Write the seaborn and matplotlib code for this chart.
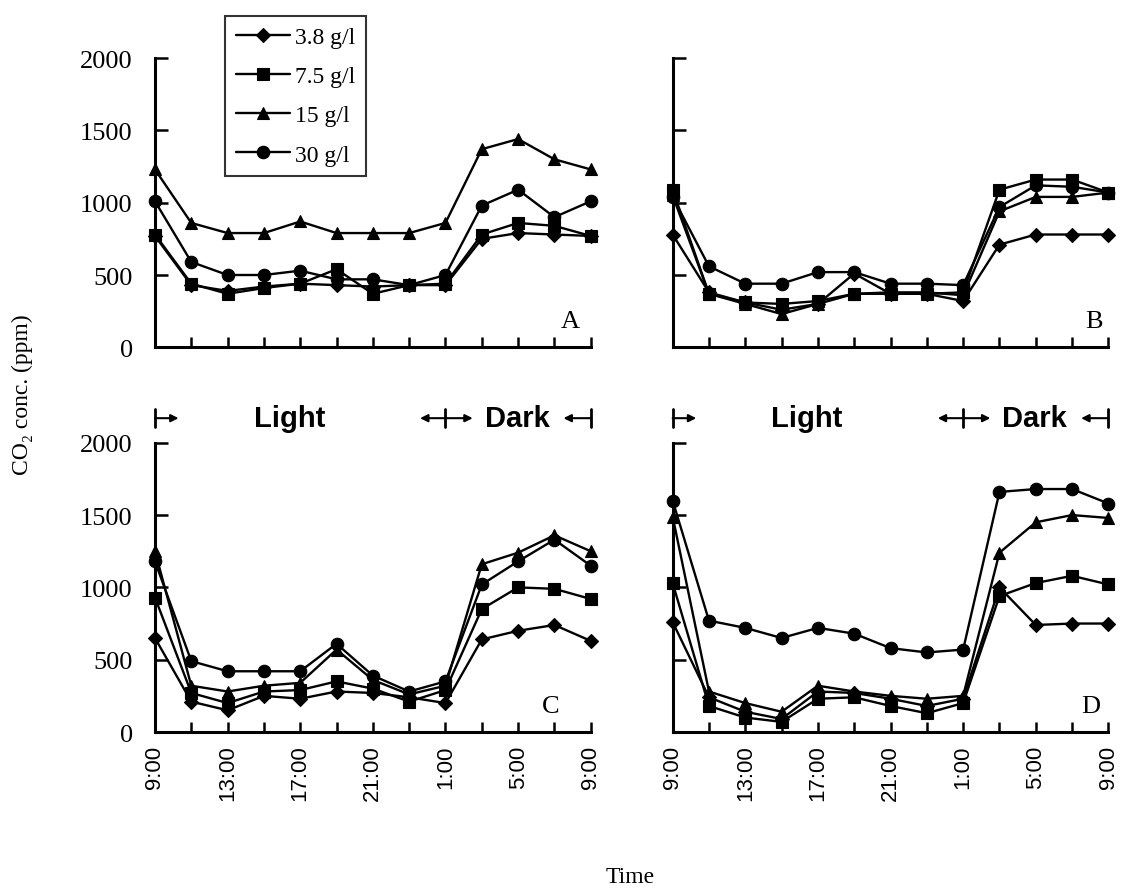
import pandas as pd
import seaborn as sns
import matplotlib.pyplot as plt
from matplotlib.transforms import blended_transform_factory

# time axis: hours after 9:00, sampled every 2 h
hours = [0, 2, 4, 6, 8, 10, 12, 14, 16, 18, 20, 22, 24]
tick_hours = [0, 4, 8, 12, 16, 20, 24]
tick_labels = ['9:00', '13:00', '17:00', '21:00', '1:00', '5:00', '9:00']
y_ticks = [0, 500, 1000, 1500, 2000]

series = ['3.8 g/l', '7.5 g/l', '15 g/l', '30 g/l']

# panel A
a_38 = [770, 430, 390, 420, 440, 430, 420, 430, 430, 750, 790, 780, 770]
a_75 = [780, 440, 370, 410, 440, 540, 370, 430, 440, 780, 860, 840, 770]
a_15 = [1230, 860, 790, 790, 870, 790, 790, 790, 860, 1370, 1440, 1300, 1230]
a_30 = [1010, 590, 500, 500, 530, 470, 470, 430, 500, 980, 1090, 900, 1010]

# panel B
b_38 = [780, 380, 310, 260, 300, 510, 370, 370, 320, 710, 780, 780, 780]
b_75 = [1090, 370, 310, 300, 320, 370, 370, 370, 380, 1090, 1160, 1160, 1070]
b_15 = [1050, 370, 300, 230, 300, 370, 380, 380, 360, 940, 1040, 1040, 1070]
b_30 = [1040, 560, 440, 440, 520, 520, 440, 440, 430, 970, 1120, 1110, 1070]

# panel C
c_38 = [650, 210, 150, 250, 230, 280, 270, 240, 200, 640, 700, 740, 630]
c_75 = [930, 270, 200, 280, 290, 350, 300, 210, 290, 850, 1000, 990, 920]
c_15 = [1250, 320, 280, 320, 340, 570, 360, 260, 320, 1160, 1240, 1360, 1250]
c_30 = [1180, 490, 420, 420, 420, 610, 390, 280, 350, 1020, 1180, 1330, 1150]

# panel D
d_38 = [760, 240, 140, 90, 280, 270, 230, 180, 230, 1000, 740, 750, 750]
d_75 = [1030, 180, 100, 70, 230, 240, 180, 130, 200, 940, 1030, 1080, 1020]
d_15 = [1490, 280, 200, 140, 320, 280, 250, 230, 250, 1240, 1450, 1500, 1480]
d_30 = [1600, 770, 720, 650, 720, 680, 580, 550, 570, 1660, 1680, 1680, 1580]

panels = {
    'A': [a_38, a_75, a_15, a_30],
    'B': [b_38, b_75, b_15, b_30],
    'C': [c_38, c_75, c_15, c_30],
    'D': [d_38, d_75, d_15, d_30],
}

markers = {'3.8 g/l': 'D', '7.5 g/l': 's', '15 g/l': '^', '30 g/l': 'o'}
msizes = {'3.8 g/l': 7, '7.5 g/l': 8.5, '15 g/l': 9, '30 g/l': 9}

sns.set_style('ticks')
plt.rcParams['font.family'] = ['Liberation Serif', 'DejaVu Serif']
for key in ['text.color', 'axes.edgecolor', 'axes.labelcolor',
            'xtick.color', 'ytick.color']:
    plt.rcParams[key] = 'black'

fig, axes = plt.subplots(2, 2, figsize=(11.23, 8.95), dpi=100)
fig.subplots_adjust(left=0.138, right=0.987, top=0.934, bottom=0.181,
                    wspace=0.188, hspace=0.33)

sans = ['Liberation Sans', 'DejaVu Sans']
letter_pos = {'A': 0.954, 'B': 0.966, 'C': 0.908, 'D': 0.959}

for ax, name in zip(axes.flat, ['A', 'B', 'C', 'D']):
    for s, vals in zip(series, panels[name]):
        sns.lineplot(x=hours, y=vals, ax=ax, color='black', linewidth=1.7,
                     marker=markers[s], markersize=msizes[s],
                     markeredgecolor='black', markeredgewidth=0.8,
                     legend=False, clip_on=False)
    ax.set_xlim(0, 24)
    ax.set_ylim(0, 2000)
    ax.set_xticks(tick_hours)
    ax.set_xticks(hours, minor=True)
    ax.set_yticks(y_ticks)
    sns.despine(ax=ax)
    for sp in ['left', 'bottom']:
        ax.spines[sp].set_linewidth(2.2)
        ax.spines[sp].set_color('black')
    ax.tick_params(axis='both', which='both', direction='in', width=1.8, color='black')
    ax.tick_params(axis='x', which='both', length=7, pad=9)
    ax.tick_params(axis='y', length=9, pad=16)
    ax.set_xlabel('')
    ax.set_ylabel('')
    if name in ('A', 'B'):
        ax.tick_params(axis='x', labelbottom=False)
    else:
        ax.set_xticklabels(tick_labels, rotation=90, fontsize=16, family=sans)
    if name in ('B', 'D'):
        ax.tick_params(axis='y', labelleft=False)
    else:
        ax.set_yticklabels([str(v) for v in y_ticks], fontsize=19)
    ax.text(letter_pos[name], 0.09, name, transform=ax.transAxes,
            fontsize=19, ha='center', va='center')

    # light / dark period markers above the bottom panels
    if name in ('C', 'D'):
        tr = blended_transform_factory(ax.transData, ax.transAxes)
        yy = 1.085
        arrow = dict(arrowstyle='-|>', color='black', lw=1.5,
                     mutation_scale=11, shrinkA=0, shrinkB=0)
        for xb in (0, 16, 24):
            ax.plot([xb, xb], [yy - 0.03, yy + 0.03], transform=tr,
                    color='black', lw=2, clip_on=False)
        for x0, x1 in ((0, 1.3), (16, 14.6), (16, 17.5), (24, 22.5)):
            ax.annotate('', xy=(x1, yy), xytext=(x0, yy), xycoords=tr,
                        textcoords=tr, arrowprops=arrow, annotation_clip=False)
        ax.text(7.4, yy, 'Light', transform=tr, fontsize=21, fontweight='bold',
                family=sans, ha='center', va='center')
        ax.text(19.95, yy, 'Dark', transform=tr, fontsize=21, fontweight='bold',
                family=sans, ha='center', va='center')

axA = axes[0, 0]
leg = axA.legend(axA.lines[:4], series, loc='upper left',
                 bbox_to_anchor=(0.161, 1.146), borderaxespad=0,
                 frameon=True, fancybox=False, edgecolor='black',
                 fontsize=17, handlelength=2.3, handletextpad=0.2,
                 labelspacing=0.75, borderpad=0.45)
leg.get_frame().set_linewidth(1.5)

fig.text(0.0196, 0.559, 'CO₂ conc. (ppm)', rotation=90, fontsize=17,
         ha='center', va='center')
fig.text(0.561, 0.019, 'Time', fontsize=17, ha='center', va='center')

plt.savefig('out.png', dpi=100)
